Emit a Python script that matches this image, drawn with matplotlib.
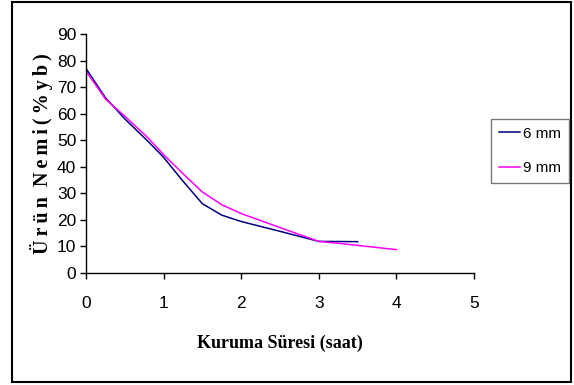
import matplotlib
matplotlib.use("Agg")
import matplotlib.pyplot as plt
from matplotlib.patches import Rectangle

# drying time (h) and product moisture (% wet basis)
t_6mm = [0, 0.25, 0.5, 0.8, 1.0, 1.25, 1.5, 1.75, 2.0, 2.5, 3.0, 3.5]
m_6mm = [77, 66, 58, 49.5, 43.5, 34.5, 26, 21.7, 19.3, 15.6, 11.8, 11.7]

t_9mm = [0, 0.25, 0.5, 0.8, 1.0, 1.25, 1.5, 1.75, 2.0, 2.5, 3.0, 3.25, 4.0]
m_9mm = [76, 65.5, 59, 50.8, 44.5, 37.3, 30.4, 25.6, 22.3, 17.0, 11.8, 11.1, 8.7]

series_labels = ["6 mm", "9 mm"]
x_ticks = [0, 1, 2, 3, 4, 5]
y_ticks = [0, 10, 20, 30, 40, 50, 60, 70, 80, 90]

tick_font = ["Liberation Sans", "DejaVu Sans"]
label_font = ["Liberation Serif", "DejaVu Serif"]

fig = plt.figure(figsize=(5.74, 3.85), dpi=100)
ax = fig.add_axes([86 / 574, 1 - 272.7 / 385, 388 / 574, 238.7 / 385])

ax.plot(t_6mm, m_6mm, color="#000080", lw=1.1, label=series_labels[0])
ax.plot(t_9mm, m_9mm, color="#FF00FF", lw=1.1, label=series_labels[1])

ax.set_xlim(0, 5)
ax.set_ylim(0, 90)
ax.set_xticks(x_ticks)
ax.set_yticks(y_ticks)
for s in ["top", "right"]:
    ax.spines[s].set_visible(False)
for s in ["left", "bottom"]:
    ax.spines[s].set_linewidth(1.0)
ax.tick_params(axis="both", direction="out", length=4, width=1, colors="black")
ax.tick_params(axis="x", pad=13)
ax.tick_params(axis="y", pad=3)
for lab in ax.get_xticklabels() + ax.get_yticklabels():
    lab.set_family(tick_font)
    lab.set_fontsize(12.5)

ax.set_xlabel("Kuruma Süresi (saat)", family=label_font, fontweight="bold",
              fontsize=13, labelpad=17)
ts = "\u2009"
ylab = ts.join("Ürün") + "  " + ts.join("Nemi") + ts + ts.join("(%yb)")
ax.set_ylabel(ylab, family=label_font, fontweight="bold", fontsize=14.5, labelpad=3)

leg = fig.legend(loc="upper left", bbox_to_anchor=(491 / 574, 1 - 119 / 385),
                 prop={"family": tick_font, "size": 11}, frameon=True,
                 fancybox=False, handlelength=1.4, handletextpad=0.2, labelspacing=1.35,
                 borderaxespad=0, borderpad=0.5)
leg.get_frame().set_edgecolor("#555555")
leg.get_frame().set_linewidth(1.0)

fig.patches.append(Rectangle((12 / 574, 3 / 385), 559 / 574, 380 / 385,
                             transform=fig.transFigure, fill=False,
                             edgecolor="black", lw=1.5))

fig.savefig("out.png", dpi=100)
